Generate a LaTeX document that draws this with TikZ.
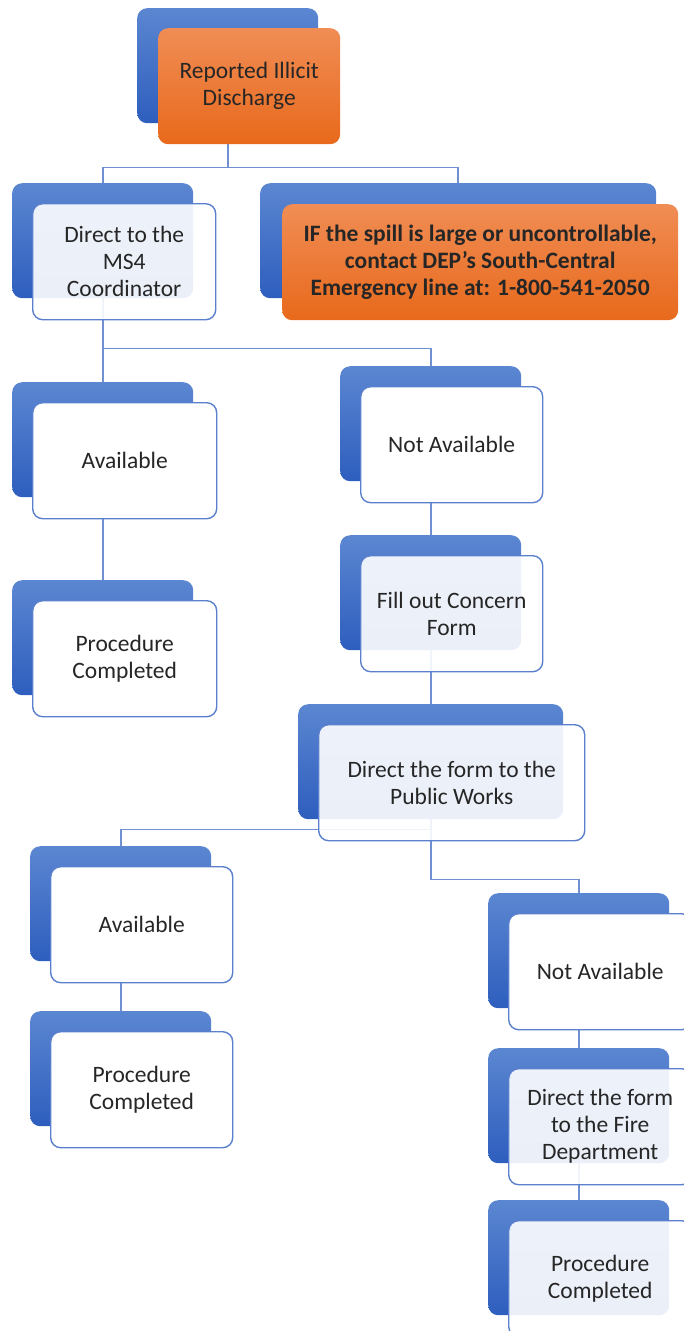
\documentclass[tikz,border=0pt]{standalone}
\usepackage{fontspec}
\setmainfont{Carlito}
\usepackage{xcolor}
\usepackage{tikz}
\usetikzlibrary{positioning}
\definecolor{BackTop}{HTML}{5B86D1}
\definecolor{BackBot}{HTML}{2E5EBE}
\definecolor{OrTop}{HTML}{F08D55}
\definecolor{OrBot}{HTML}{E8691B}
\definecolor{EdgeBlue}{HTML}{5A80CD}
\definecolor{LinkBlue}{HTML}{7090D2}
\definecolor{TextGray}{HTML}{262626}
\tikzset{
    BackBox/.style = {rounded corners=10pt,top color=BackTop,bottom color=BackBot,
        anchor=north west,minimum height=115pt,inner sep=0pt},
    FrontBox/.style = {rounded corners=10pt,draw=EdgeBlue,line width=1.4pt,fill=white,
        text opacity=1,draw opacity=1,anchor=north west,minimum height=116pt,
        align=center,inner sep=0pt,text=TextGray,font=\fontsize{23.5}{27}\selectfont},
    OrangeBox/.style = {rounded corners=10pt,top color=OrTop,bottom color=OrBot,
        anchor=north west,minimum height=116pt,align=center,inner sep=0pt,
        text=TextGray,font=\fontsize{23.5}{27}\selectfont},
    Link/.style = {draw=LinkBlue,line width=1.8pt}
}
\begin{document}
\begin{tikzpicture}[x=1pt,y=-1pt]
        \useasboundingbox (0,0) rectangle (683,1331);
        \foreach \N/\X/\Y/\W in {rep/137/8/181pt,ms4/12/183/181pt,spill/260/183/396pt,
                av1/12/382/181pt,na1/340/366/181pt,pc1/12/580/181pt,fill/340/535/181pt,
                pw/298/704/265pt,av2/30/846/181pt,pc2/30/1011/181pt,
                na2/488/893/181pt,fire/488/1048/181pt,pc3/488/1200/181pt}
            {\node[BackBox,minimum width=\W] (b\N) at (\X,\Y) {};}
        \draw[Link] (brep.south) -- ++(0,44) -| (bms4.north);
        \draw[Link] (brep.south) -- ++(0,44) -| (bspill.north);
        \draw[Link] (bms4.south) -- ++(0,50) -| (bav1.north);
        \draw[Link] (bms4.south) -- ++(0,50) -| (bna1.north);
        \draw[Link] (bav1.south) -- (bpc1.north);
        \draw[Link] (bna1.south) -- (bfill.north);
        \draw[Link] (bfill.south) -- (bpw.north);
        \draw[Link] (bpw.south) -- ++(0,10) -| (bav2.north);
        \draw[Link] (bpw.south) -- ++(0,60) -| (bna2.north);
        \draw[Link] (bav2.south) -- (bpc2.north);
        \draw[Link] (bna2.south) -- (bfire.north);
        \draw[Link] (bfire.south) -- (bpc3.north);
        \node[OrangeBox,minimum width=182pt] (rep) at ([shift={(21,20)}]brep.north west)
            {Reported Illicit\\Discharge};
        \node[OrangeBox,minimum width=396pt,font=\fontsize{23.5}{27}\selectfont\bfseries]
            (spill) at ([shift={(22,21)}]bspill.north west)
            {IF the spill is large or uncontrollable,\\contact DEP’s South-Central\\Emergency line at: 1-800-541-2050};
        \foreach \N/\W/\O/\T in {ms4/183pt/0.9/{Direct to the\\MS4\\Coordinator},
                av1/184pt/1/Available,na1/182pt/1/Not Available,
                pc1/184pt/1/{Procedure\\Completed},fill/182pt/0.9/{Fill out Concern\\Form},
                pw/266pt/0.9/{Direct the form to the\\Public Works},
                av2/182pt/1/Available,pc2/182pt/1/{Procedure\\Completed},
                na2/183pt/1/Not Available,fire/183pt/0.9/{Direct the form\\to the Fire\\Department},
                pc3/183pt/0.9/{Procedure\\Completed}}
            {\node[FrontBox,minimum width=\W,fill opacity=\O] (\N) at ([shift={(20,20)}]b\N.north west) {\T};}
        \end{tikzpicture}
\end{document}
